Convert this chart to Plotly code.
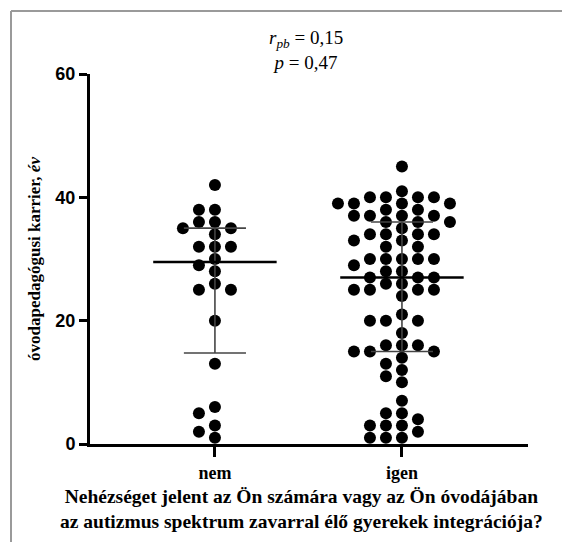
import plotly.graph_objects as go

# data
groups = ["nem", "igen"]
nem_values = [42, 38, 38, 36, 36, 35, 35, 34, 32, 32, 32, 30, 29, 28, 26, 25, 25,
              20, 13, 6, 5, 3, 2, 1]
igen_values = [45, 41, 40, 40, 40, 40, 39, 39, 39, 39, 38, 38, 37, 37, 37, 37,
               36, 36, 36, 35, 34, 34, 34, 34, 33, 33, 32, 32, 30, 30, 30, 30, 30,
               29, 28, 28, 27, 27, 27, 26, 26, 25, 25, 25, 25, 24, 21, 20, 20, 20,
               18, 16, 16, 16, 15, 15, 15, 14, 13, 12, 11, 10, 7, 5, 5, 4, 3, 3, 3,
               2, 1, 1, 1]
medians = [29.5, 27]
q1 = [14.75, 15]
q3 = [35, 36]
y_ticks = [0, 20, 40, 60]

W, H = 562, 542
ML, MR, MT, MB = 90, 34, 74, 98
x_range = [0.332, 2.674]
y_range = [0, 60]
px_x = (W - ML - MR) / (x_range[1] - x_range[0])
px_y = (H - MT - MB) / (y_range[1] - y_range[0])

serif = "Liberation Serif, Times New Roman, serif"
sans = "Liberation Sans, Arial, sans-serif"


def swarm(values, center, d=11.8, step=8):
    # greedy beeswarm in pixel space, like the column scatter of the original
    placed = []
    xs = [0.0] * len(values)
    cands = [0] + [s * m * step for m in range(1, 30) for s in (-1, 1)]
    for i in sorted(range(len(values)), key=lambda k: -values[k]):
        y = values[i] * px_y
        for off in cands:
            if all((off - a) ** 2 + (y - b) ** 2 >= d * d for a, b in placed):
                break
        placed.append((off, y))
        xs[i] = center + off / px_x
    return xs


fig = go.Figure()

for gi, vals in enumerate([nem_values, igen_values]):
    c = gi + 1
    fig.add_trace(go.Scatter(
        x=swarm(vals, c), y=vals, mode="markers",
        marker=dict(size=12, color="black"),
        cliponaxis=False, showlegend=False, hoverinfo="y"))
    # interquartile range whisker and caps
    fig.add_trace(go.Scatter(
        x=[c, c, None, c - 0.166, c + 0.166, None, c - 0.166, c + 0.166],
        y=[q1[gi], q3[gi], None, q1[gi], q1[gi], None, q3[gi], q3[gi]],
        mode="lines", line=dict(color="#444", width=1.6),
        showlegend=False, hoverinfo="skip"))
    # median
    fig.add_trace(go.Scatter(
        x=[c - 0.33, c + 0.33], y=[medians[gi], medians[gi]],
        mode="lines", line=dict(color="black", width=2.5),
        showlegend=False, hoverinfo="skip"))

fig.update_xaxes(
    range=x_range, tickvals=[1, 2], ticktext=groups,
    showline=True, linecolor="black", linewidth=3,
    ticks="outside", ticklen=10, tickwidth=3, tickcolor="black",
    tickfont=dict(family=serif, size=18, color="black", weight="bold"),
    showgrid=False, zeroline=False, fixedrange=True)
fig.update_yaxes(
    range=y_range, tickvals=y_ticks,
    showline=True, linecolor="black", linewidth=3,
    ticks="outside", ticklen=8, tickwidth=3, tickcolor="black",
    tickfont=dict(family=sans, size=18, color="black", weight="bold"),
    showgrid=False, zeroline=False, fixedrange=True,
    title=dict(text="óvodapedagógusi karrier, <i>év</i>", standoff=11,
               font=dict(family=serif, size=17, color="black", weight="bold")))

pw, ph = W - ML - MR, H - MT - MB

# x axis title as annotation (two lines, bold serif)
fig.add_annotation(
    text="Nehézséget jelent az Ön számára vagy az Ön óvodájában<br>"
         "az autizmus spektrum zavarral élő gyerekek integrációja?",
    xref="paper", yref="paper", x=(301 - ML) / pw, y=(ph - (509 - MT)) / ph,
    xanchor="center", yanchor="middle", showarrow=False, align="center",
    font=dict(family=serif, size=19.5, color="black", weight="bold"))

fig.add_annotation(
    text="<i>r</i><sub><i>pb</i></sub> = 0,15<br><i>p</i> = 0,47",
    xref="paper", yref="paper", x=(306 - ML) / pw, y=(ph - (50 - MT)) / ph,
    xanchor="center", yanchor="middle", showarrow=False, align="center",
    font=dict(family=serif, size=19, color="black"))

# grey frame at top and left of the picture
fx0 = (11 - ML) / pw
fy0 = 1 + (MT - 11) / ph
fig.add_shape(type="line", xref="paper", yref="paper",
              x0=fx0, y0=fy0, x1=(W - ML) / pw + 0.01, y1=fy0,
              line=dict(color="#9a9a9a", width=2))
fig.add_shape(type="line", xref="paper", yref="paper",
              x0=fx0, y0=fy0, x1=fx0, y1=-(H - MT - ph) / ph - 0.01,
              line=dict(color="#9a9a9a", width=2))

fig.update_layout(
    width=W, height=H,
    margin=dict(l=ML, r=MR, t=MT, b=MB),
    plot_bgcolor="white", paper_bgcolor="white",
    showlegend=False)

fig.write_html("out.html", config={"displayModeBar": False},
               post_script="document.body.style.margin='0';")
